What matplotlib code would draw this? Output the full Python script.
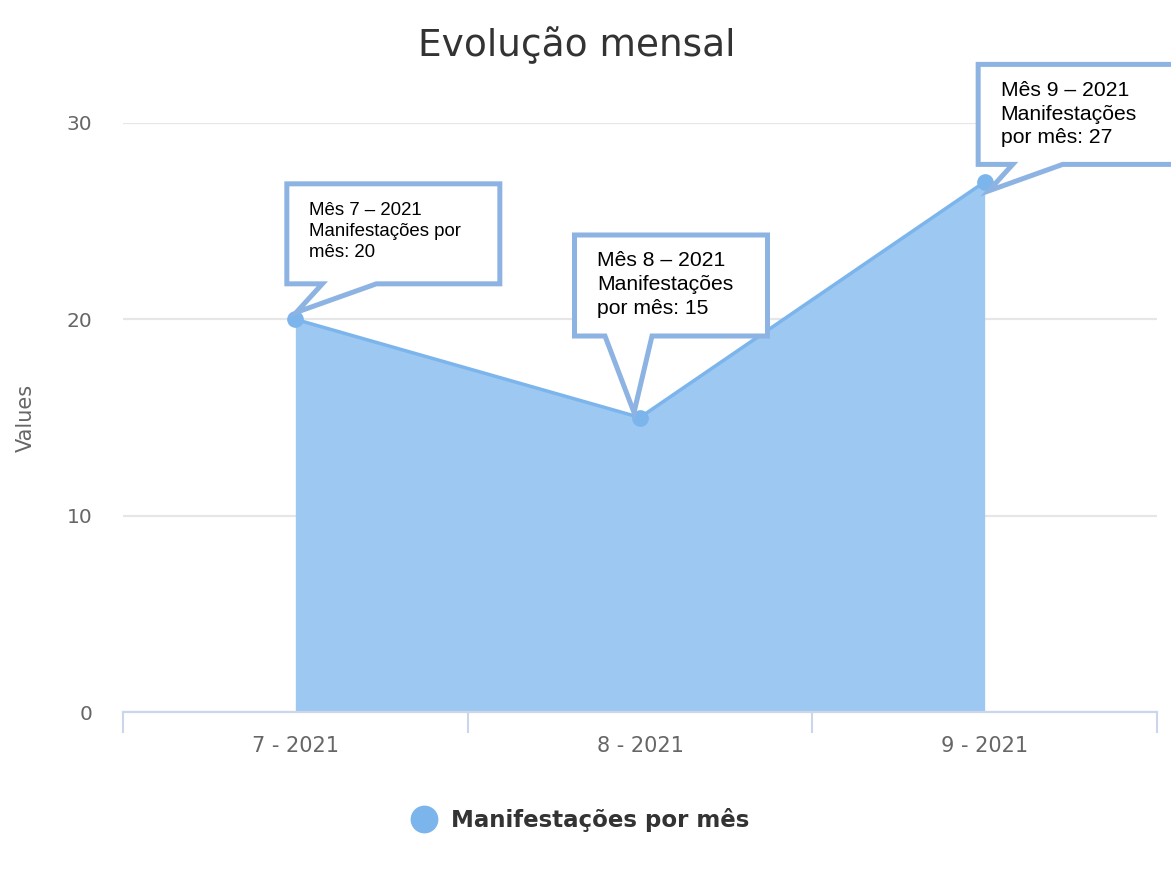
import matplotlib
matplotlib.use("Agg")
import matplotlib.pyplot as plt
import matplotlib.transforms as mtransforms
from matplotlib.patches import Polygon
from matplotlib.lines import Line2D

# ---- data ----
categories = ["7 - 2021", "8 - 2021", "9 - 2021"]
values = [20, 15, 27]
months = ["7", "8", "9"]
years = ["2021", "2021", "2021"]
series_name = "Manifestações por mês"
title = "Evolução mensal"
y_label = "Values"
y_ticks = [0, 10, 20, 30]

# ---- styling ----
W, H, DPI = 1171, 875, 100
line_color = "#7cb5ec"
fill_color = "#9dc8f1"
grid_color = "#e6e6e6"
axis_color = "#ccd6eb"
callout_color = "#8db3e2"

fig = plt.figure(figsize=(W / DPI, H / DPI), dpi=DPI)
ax = fig.add_axes([123 / W, 1 - 712 / H, (1157 - 123) / W, (712 - 123) / H])

x = list(range(len(categories)))
ax.fill_between(x, 0, values, color=fill_color, linewidth=0, zorder=1)
ax.plot(x, values, color=line_color, linewidth=2.5, zorder=2)
ax.plot(x, values, linestyle="none", marker="o", markersize=11,
        color=line_color, zorder=3, clip_on=False)

ax.set_xlim(-0.5, len(categories) - 0.5)
ax.set_ylim(0, 30)
ax.set_xticks(x)
ax.set_xticklabels(categories, fontsize=15, color="#666666", family="DejaVu Sans")
ax.set_xticks([i - 0.5 for i in range(len(categories) + 1)], minor=True)
ax.tick_params(axis="x", which="major", length=0, pad=17)
ax.tick_params(axis="x", which="minor", length=15, width=1.5, color=axis_color)
ax.set_yticks(y_ticks)
ax.set_yticklabels([str(t) for t in y_ticks], fontsize=14.5, color="#666666")
ax.tick_params(axis="y", length=0, pad=22)
ax.yaxis.grid(True, color=grid_color, linewidth=1.6)
ax.set_axisbelow(True)
for s in ["top", "right", "left"]:
    ax.spines[s].set_visible(False)
ax.spines["bottom"].set_color(axis_color)
ax.spines["bottom"].set_linewidth(1.6)
ax.set_ylabel(y_label, fontsize=15, color="#666666", labelpad=0)
ax.yaxis.set_label_coords(-(123 - 36) / (1157 - 123), 0.5)

fig.text(577 / W, 1 - 45 / H, title, ha="center", va="center",
         fontsize=27, color="#333333")

handle = Line2D([], [], linestyle="none", marker="o", markersize=19,
                color=line_color)
fig.legend([handle], [series_name], loc="center",
           bbox_to_anchor=(580 / W, 1 - 820 / H), frameon=False,
           prop={"size": 16.5, "weight": "bold"}, labelcolor="#333333",
           handletextpad=0.6, handlelength=1.2)

# ---- callouts (geometry in pixel offsets relative to each point, image y down) ----
callout_geom = [
    dict(box=(-8.5, -135.5, 204.5, -35.5), tail=(27, 81), tip=(1, -7),
         text=(14, -117), fs=13.4),
    dict(box=(-65.5, -182.5, 127.5, -81.5), tail=(-35, 12), tip=(-6, -5),
         text=(-43, -166), fs=15.2),
    dict(box=(-6.5, -117.5, 205, -17.5), tail=(28, 78), tip=(4, 9),
         text=(16, -101), fs=15.2),
]
fig.canvas.draw()
ident = mtransforms.IdentityTransform()
for i, (v, g) in enumerate(zip(values, callout_geom)):
    px, py = ax.transData.transform((x[i], v))
    l, t, r, b = g["box"]
    t1, t2 = g["tail"]
    tx, ty = g["tip"]
    pts_img = [(l, t), (r, t), (r, b), (t2, b), (tx, ty), (t1, b), (l, b)]
    pts = [(px + a, py - c) for a, c in pts_img]
    poly = Polygon(pts, closed=True, facecolor="white", edgecolor=callout_color,
                   linewidth=3.6, joinstyle="miter", transform=ident, zorder=4)
    fig.add_artist(poly)
    label = f"Mês {months[i]} – {years[i]}\nManifestações" + (
        " por\nmês: " if i == 0 else "\npor mês: ") + str(v)
    fig.text(px + g["text"][0], py - g["text"][1], label, transform=ident,
             ha="left", va="top", fontsize=g["fs"], family="Liberation Sans",
             color="black", linespacing=1.31, zorder=5)

fig.savefig("out.png", dpi=DPI)
